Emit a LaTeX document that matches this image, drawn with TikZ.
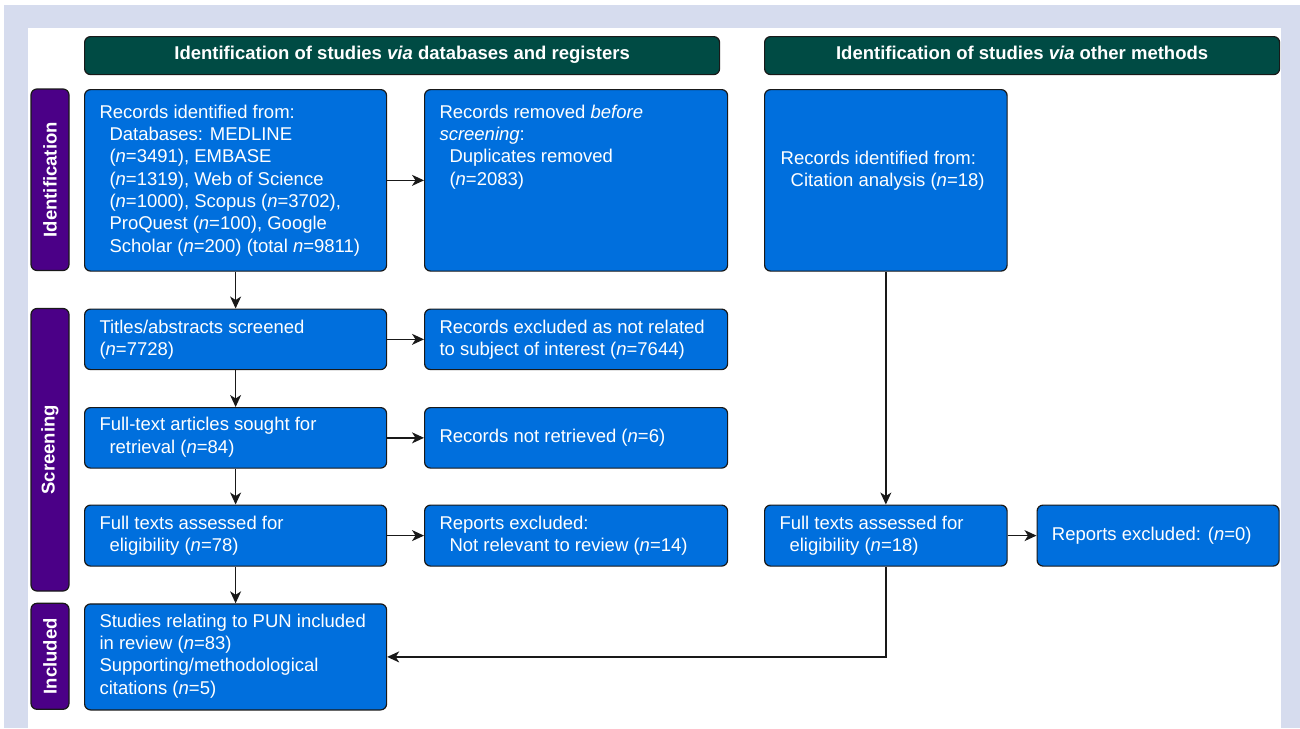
\documentclass[tikz,border=0pt]{standalone}
\usepackage{fontspec}
\setmainfont{Liberation Sans}
\usetikzlibrary{arrows.meta}
\definecolor{framecol}{RGB}{214,220,238}
\definecolor{boxblue}{RGB}{0,111,221}
\definecolor{headgreen}{RGB}{0,75,68}
\definecolor{barpurple}{RGB}{75,0,135}
\definecolor{edgecol}{RGB}{25,25,25}
\newcommand\ind{\hspace*{10pt}}
\newcommand\nn{\textit{n}}
\newcommand\mytx[1]{\parbox[t]{300pt}{\raggedright #1}}
\begin{document}
\begin{tikzpicture}[x=1pt,y=-1pt,
  bx/.style={draw=edgecol, line width=1.2pt, fill=boxblue, rounded corners=6pt, inner sep=0pt, anchor=north west},
  hd/.style={draw=edgecol, line width=1.2pt, fill=headgreen, rounded corners=6pt, inner sep=0pt, anchor=north west, text=white, text height=13.3pt, text depth=4.7pt, font=\fontsize{18.5}{22.3}\selectfont\bfseries},
  bar/.style={draw=edgecol, line width=1.2pt, fill=barpurple, rounded corners=6pt, inner sep=0pt, rotate=90, anchor=center, text=white, font=\fontsize{18.5}{22.3}\selectfont\bfseries},
  tx/.style={text=white, font=\fontsize{18.5}{22.3}\selectfont, inner sep=0pt, anchor=base west},
  ar/.style={draw=edgecol, line width=1.3pt, -{Stealth[length=12pt,width=11pt,inset=3.5pt]}}
]
\useasboundingbox (0,0) rectangle (1300,728);
\fill[white] (0,0) rectangle (1300,728);
\fill[framecol] (4,5) rectangle (1300,728);
\fill[white] (28,28) rectangle (1281,728);

% headers
\node[hd, minimum width=635pt, minimum height=38pt] (head1) at (84,36) {Identification of studies \textit{via} databases and registers};
\node[hd, minimum width=515pt, minimum height=38pt] (head2) at (764,36) {Identification of studies \textit{via} other methods};

% side bars
\node[bar, minimum width=181.5pt, minimum height=38pt] (bar1) at (50,179.75) {Identification};
\node[bar, minimum width=282.5pt, minimum height=38pt] (bar2) at (50,449.75) {Screening};
\node[bar, minimum width=106pt, minimum height=38pt] (bar3) at (50,656.3) {Included};

% boxes
\node[bx, minimum width=302pt, minimum height=181.5pt] (idrec) at (84,89) {};
\node[bx, minimum width=303pt, minimum height=181.5pt] (removed) at (424,89) {};
\node[bx, minimum width=242.5pt, minimum height=181.5pt] (orec) at (764,89) {};
\node[bx, minimum width=302pt, minimum height=60.5pt] (titles) at (84,308.5) {};
\node[bx, minimum width=303pt, minimum height=60.5pt] (excl) at (424,308.5) {};
\node[bx, minimum width=302pt, minimum height=60.5pt] (sought) at (84,407) {};
\node[bx, minimum width=303pt, minimum height=60.5pt] (notret) at (424,407) {};
\node[bx, minimum width=302pt, minimum height=61pt] (assess) at (84,504.5) {};
\node[bx, minimum width=303pt, minimum height=61pt] (repex) at (424,504.5) {};
\node[bx, minimum width=242.5pt, minimum height=61pt] (oassess) at (764,504.5) {};
\node[bx, minimum width=242pt, minimum height=61pt] (orepex) at (1036.5,504.5) {};
\node[bx, minimum width=302pt, minimum height=106pt] (incl) at (84,603.3) {};

% texts
\node[tx] (idrec-t) at (99.3,118.3) {\mytx{Records identified from:\\
\ind Databases: MEDLINE\\
\ind (\nn=3491), EMBASE\\
\ind (\nn=1319), Web of Science\\
\ind (\nn=1000), Scopus (\nn=3702),\\
\ind ProQuest (\nn=100), Google\\
\ind Scholar (\nn=200) (total \nn=9811)}};
\node[tx] (removed-t) at (439.3,118.3) {\mytx{Records removed \textit{before}\\
\textit{screening}:\\
\ind Duplicates removed\\
\ind (\nn=2083)}};
\node[tx] (orec-t) at (780.5,164) {\mytx{Records identified from:\\
\ind Citation analysis (\nn=18)}};
\node[tx] (titles-t) at (99.3,333) {\mytx{Titles/abstracts screened\\
(\nn=7728)}};
\node[tx] (excl-t) at (439.3,333) {\mytx{Records excluded as not related\\
to subject of interest (\nn=7644)}};
\node[tx] (sought-t) at (99.3,430.7) {\mytx{Full-text articles sought for\\
\ind retrieval (\nn=84)}};
\node[tx] (notret-t) at (439.3,442.6) {\mytx{Records not retrieved (\nn=6)}};
\node[tx] (assess-t) at (99.3,529.3) {\mytx{Full texts assessed for\\
\ind eligibility (\nn=78)}};
\node[tx] (repex-t) at (439.3,529.3) {\mytx{Reports excluded:\\
\ind Not relevant to review (\nn=14)}};
\node[tx] (oassess-t) at (779.3,529.3) {\mytx{Full texts assessed for\\
\ind eligibility (\nn=18)}};
\node[tx] (orepex-t) at (1051.7,540) {\mytx{Reports excluded: (\nn=0)}};
\node[tx] (incl-t) at (99.3,627.3) {\mytx{Studies relating to PUN included\\
in review (\nn=83)\\
Supporting/methodological\\
citations (\nn=5)}};

% connectors
\draw[ar] (idrec.east) -- (removed.west);
\draw[ar] (idrec.south) -- (titles.north);
\draw[ar] (titles.east) -- (excl.west);
\draw[ar] (titles.south) -- (sought.north);
\draw[ar] (sought.east) -- (notret.west);
\draw[ar] (sought.south) -- (assess.north);
\draw[ar] (assess.east) -- (repex.west);
\draw[ar] (assess.south) -- (incl.north);
\draw[ar] (orec.south) -- (oassess.north);
\draw[ar] (oassess.east) -- (orepex.west);
\draw[ar] (oassess.south) |- (incl.east);
\end{tikzpicture}
\end{document}
